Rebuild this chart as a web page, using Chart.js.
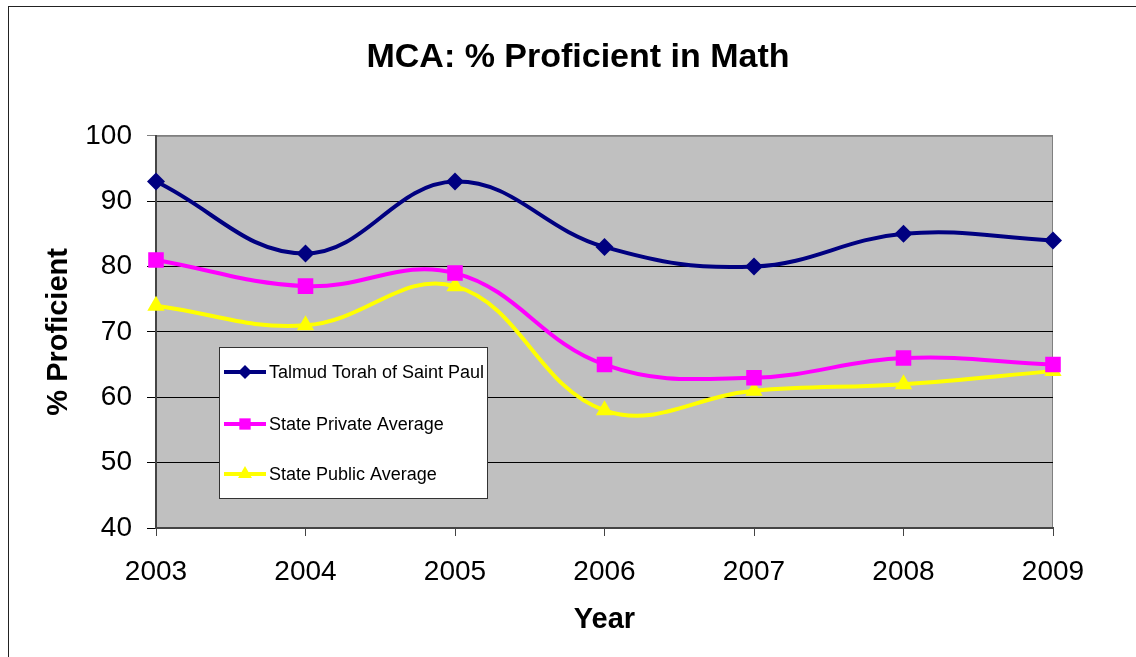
<!DOCTYPE html>
<html>
<head>
<meta charset="utf-8">
<script src="https://cdn.jsdelivr.net/npm/chart.js@4.4.1/dist/chart.umd.min.js"></script>
<style>
  html, body { margin: 0; padding: 0; background: #fff; overflow: hidden; }
  #frame {
    position: absolute; left: 8px; top: 6px;
    width: 1140px; height: 660px;
    border: 1px solid #222; box-sizing: border-box;
  }
  #wrap { position: absolute; left: 8px; top: 6px; width: 1140px; height: 651px; }
</style>
</head>
<body>
<div id="frame"></div>
<div id="wrap"><canvas id="mcaChart"></canvas></div>
<script>
// dados do gráfico
const years = ['2003', '2004', '2005', '2006', '2007', '2008', '2009'];
const talmudTorah = [93, 82, 93, 83, 80, 85, 84];
const statePrivate = [81, 77, 79, 65, 63, 66, 65];
const statePublic = [74, 71, 77, 58, 61, 62, 64];
const yTicks = [40, 50, 60, 70, 80, 90, 100];

const FONT = 'Arial, "Liberation Sans", sans-serif';

// fundo cinza da área do gráfico + borda
const plotBackground = {
    id: 'plotBackground',
    afterLayout(chart) {
        // centraliza o título na largura toda do canvas
        if (chart.titleBlock) {
            chart.titleBlock.left = 0;
            chart.titleBlock.right = chart.width;
            chart.titleBlock.width = chart.width;
        }
    },
    beforeDraw(chart) {
        const { ctx, chartArea: a } = chart;
        ctx.save();
        ctx.fillStyle = '#C0C0C0';
        ctx.fillRect(a.left, a.top, a.right - a.left, a.bottom - a.top);
        ctx.strokeStyle = '#808080';
        ctx.lineWidth = 1;
        ctx.strokeRect(a.left + 0.5, a.top + 0.5, a.right - a.left - 1, a.bottom - a.top);
        ctx.restore();
    }
};

// legenda dentro da área do gráfico, como no Excel
const boxLegend = {
    id: 'boxLegend',
    afterDatasetsDraw(chart) {
        const ctx = chart.ctx;
        const box = { x: 211, y: 341, w: 268, h: 151 };
        const rows = [366, 418, 468];
        const sizes = [7, 8, 8];
        ctx.save();
        ctx.fillStyle = '#fff';
        ctx.fillRect(box.x, box.y, box.w, box.h);
        ctx.strokeStyle = '#333';
        ctx.lineWidth = 1;
        ctx.strokeRect(box.x + 0.5, box.y + 0.5, box.w, box.h);
        chart.data.datasets.forEach((ds, i) => {
            const y = rows[i];
            ctx.strokeStyle = ds.borderColor;
            ctx.lineWidth = 4;
            ctx.beginPath();
            ctx.moveTo(216, y);
            ctx.lineTo(258, y);
            ctx.stroke();
            ctx.fillStyle = ds.backgroundColor;
            Chart.helpers.drawPoint(ctx, {
                pointStyle: ds.pointStyle,
                radius: sizes[i],
                borderWidth: 0
            }, 237, y);
            ctx.fillStyle = '#000';
            ctx.font = '18px ' + FONT;
            ctx.textBaseline = 'middle';
            ctx.fillText(ds.label, 261, y + 1);
        });
        ctx.restore();
    }
};

const ctx = document.getElementById('mcaChart').getContext('2d');
new Chart(ctx, {
    type: 'line',
    data: {
        labels: years,
        datasets: [
            {
                label: 'Talmud Torah of Saint Paul',
                data: talmudTorah,
                borderColor: '#000080',
                backgroundColor: '#000080',
                pointStyle: 'rectRot',
                pointRadius: 9
            },
            {
                label: 'State Private Average',
                data: statePrivate,
                borderColor: '#FF00FF',
                backgroundColor: '#FF00FF',
                pointStyle: 'rect',
                pointRadius: 11
            },
            {
                label: 'State Public Average',
                data: statePublic,
                borderColor: '#FFFF00',
                backgroundColor: '#FFFF00',
                pointStyle: 'triangle',
                pointRadius: 10
            }
        ]
    },
    options: {
        responsive: true,
        maintainAspectRatio: false,
        animation: false,
        elements: {
            line: { borderWidth: 4, tension: 0.4 },
            point: { borderWidth: 0 }
        },
        layout: { padding: { left: 0, right: 95, top: 0, bottom: 0 } },
        plugins: {
            legend: { display: false },
            tooltip: { enabled: false },
            title: {
                display: true,
                text: 'MCA: % Proficient in Math',
                color: '#000',
                font: { family: FONT, size: 34, weight: 'bold' },
                padding: { top: 31, bottom: 58 }
            }
        },
        scales: {
            x: {
                offset: false,
                afterFit(scale) { scale.height = 129; },
                grid: { drawOnChartArea: false, drawTicks: true, tickLength: 8, color: '#444' },
                border: { color: '#444', width: 2 },
                ticks: { color: '#000', font: { family: FONT, size: 28 }, padding: 19, maxRotation: 0 },
                title: {
                    display: true,
                    text: 'Year',
                    color: '#000',
                    font: { family: FONT, size: 29, weight: 'bold' },
                    padding: { top: 0, bottom: 20 }
                }
            },
            y: {
                min: 40,
                max: 100,
                afterFit(scale) { scale.width = 148; },
                afterBuildTicks(scale) { scale.ticks = yTicks.map(v => ({ value: v })); },
                grid: {
                    drawOnChartArea: true,
                    drawTicks: true,
                    tickLength: 9,
                    color: c => (c.tick && c.tick.value === 100 ? '#808080' : '#000')
                },
                border: { color: '#444', width: 2 },
                ticks: { color: '#000', font: { family: FONT, size: 28 }, padding: 15 },
                title: {
                    display: true,
                    text: '% Proficient',
                    color: '#000',
                    font: { family: FONT, size: 29, weight: 'bold' },
                    padding: { top: 34, bottom: 0 }
                }
            }
        }
    },
    plugins: [plotBackground, boxLegend]
});
</script>
</body>
</html>
